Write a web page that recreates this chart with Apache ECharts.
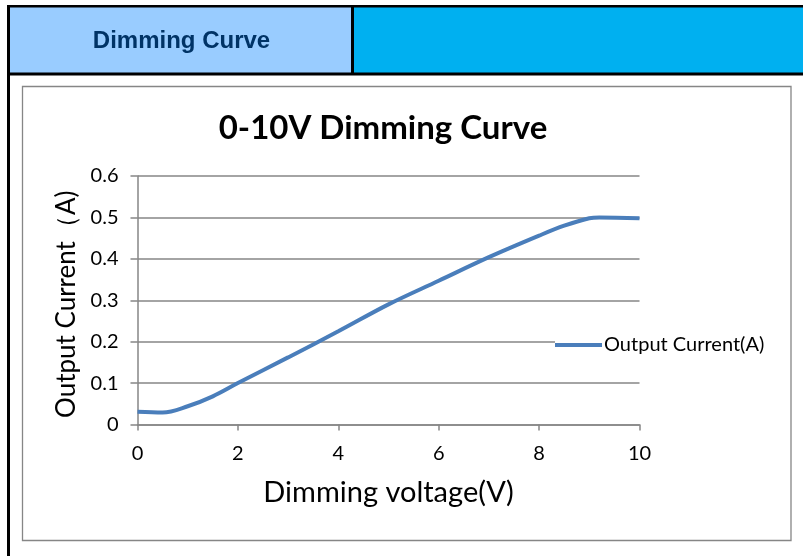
<!DOCTYPE html>
<html>
<head>
<meta charset="utf-8">
<script src="https://cdn.jsdelivr.net/npm/echarts@6/dist/echarts.min.js"></script>
<style>
html,body{margin:0;padding:0;background:#fff;}
#chart{width:803px;height:556px;}
</style>
</head>
<body>
<div id="chart"></div>
<script>
// ---- data ----
const headerTitle = "Dimming Curve";
const chartTitle = "0-10V Dimming Curve";
const seriesName = "Output Current(A)";
const xAxisName = "Dimming voltage(V)";
const yAxisName = "Output Current\uFF08A)";
const voltage = [0, 0.5, 1, 1.5, 2, 3, 4, 5, 6, 7, 8, 8.5, 9, 9.2, 10];
const current = [0.031, 0.029, 0.044, 0.068, 0.1, 0.162, 0.225, 0.29, 0.347, 0.404, 0.456, 0.48, 0.498, 0.5, 0.498];
const xTicks = {min: 0, max: 10, interval: 2};
const yTicks = {min: 0, max: 0.6, interval: 0.1};

const chart = echarts.init(document.getElementById('chart'), null, {renderer: 'canvas'});
const font = 'Lato, "Liberation Sans", sans-serif';
const points = voltage.map((v, i) => [v, current[i]]);

chart.setOption({
  animation: false,
  backgroundColor: '#ffffff',
  graphic: [
    // header fills
    {type: 'rect', shape: {x: 10, y: 7, width: 341, height: 66}, style: {fill: '#99CCFF'}, z: 0},
    {type: 'rect', shape: {x: 354, y: 7, width: 449, height: 66}, style: {fill: '#00B0F0'}, z: 0},
    // black frame lines
    {type: 'rect', shape: {x: 7, y: 5, width: 796, height: 2.5}, style: {fill: '#000'}, z: 1},
    {type: 'rect', shape: {x: 7, y: 72.5, width: 796, height: 3}, style: {fill: '#000'}, z: 1},
    {type: 'rect', shape: {x: 7, y: 5, width: 3, height: 551}, style: {fill: '#000'}, z: 1},
    {type: 'rect', shape: {x: 351, y: 5, width: 3, height: 70}, style: {fill: '#000'}, z: 1},
    // header text
    {type: 'text', x: 181.5, y: 41, style: {text: headerTitle, fill: '#003366', font: 'bold 24px "Liberation Sans", Arial, sans-serif', textAlign: 'center', textVerticalAlign: 'middle'}, z: 2},
    // inner chart frame
    {type: 'rect', shape: {x: 22.5, y: 86.5, width: 768.5, height: 454}, style: {fill: 'none', stroke: '#868686', lineWidth: 1.3}, z: 0}
  ],
  title: {
    text: chartTitle,
    left: 378,
    top: 107,
    textAlign: 'center',
    textStyle: {fontFamily: font, fontWeight: 'bold', fontSize: 33, color: '#000'}
  },
  legend: {
    left: 555,
    top: 335,
    itemWidth: 47,
    itemHeight: 4,
    icon: 'rect',
    padding: 0,
    backgroundColor: '#fff',
    data: [seriesName],
    textStyle: {fontFamily: font, fontSize: 20, color: '#000', padding: [0, 0, 0, -3]}
  },
  grid: {left: 137.5, right: 163.5, top: 176, bottom: 131.5, containLabel: false},
  xAxis: {
    type: 'value',
    min: xTicks.min, max: xTicks.max, interval: xTicks.interval,
    name: xAxisName,
    nameLocation: 'middle',
    nameGap: 54,
    nameTextStyle: {fontFamily: font, fontSize: 29, color: '#000'},
    axisLine: {show: true, onZero: false, lineStyle: {color: '#868686', width: 1.5}},
    axisTick: {show: true, length: 6, lineStyle: {color: '#868686', width: 1.5}},
    axisLabel: {fontFamily: font, fontSize: 20, color: '#000', margin: 19},
    splitLine: {show: false}
  },
  yAxis: {
    type: 'value',
    min: yTicks.min, max: yTicks.max, interval: yTicks.interval,
    name: yAxisName,
    nameLocation: 'middle',
    nameRotate: 90,
    nameGap: 58,
    nameTextStyle: {fontFamily: font, fontSize: 26, color: '#000', padding: [0, 8, 0, 0]},
    axisLine: {show: true, lineStyle: {color: '#868686', width: 1.5}},
    axisTick: {show: true, length: 7, lineStyle: {color: '#868686', width: 1.5}},
    axisLabel: {fontFamily: font, fontSize: 20, color: '#000', margin: 19},
    splitLine: {show: true, lineStyle: {color: '#868686', width: 1.5}}
  },
  series: [{
    name: seriesName,
    type: 'line',
    data: points,
    smooth: 0.35,
    symbol: 'none',
    lineStyle: {color: '#4A7EBB', width: 4},
    itemStyle: {color: '#4A7EBB'},
    z: 3
  }]
});
</script>
</body>
</html>
